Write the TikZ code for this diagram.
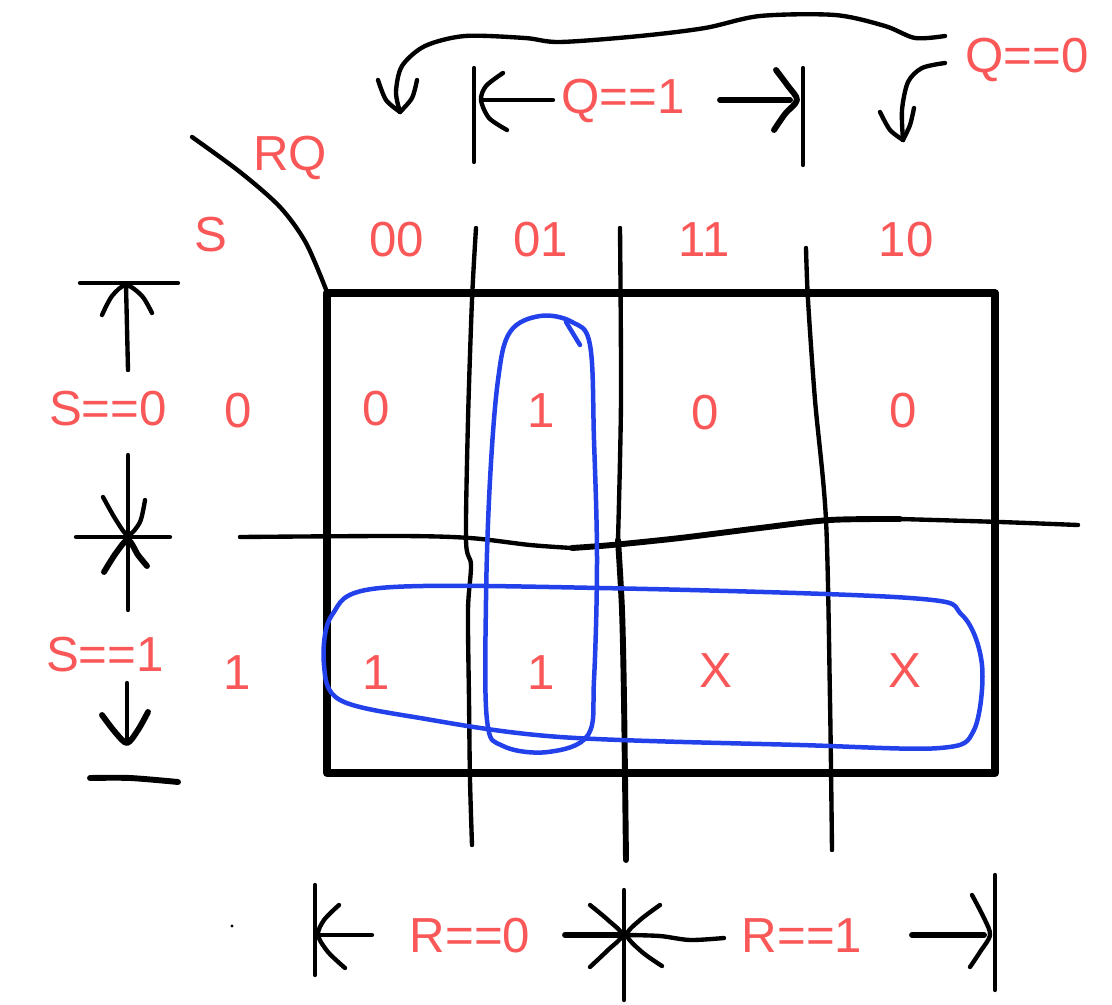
\documentclass[tikz,border=0pt]{standalone}
\usepackage{fontspec}
\setmainfont{Liberation Sans}
\begin{document}
\begin{tikzpicture}[x=0.025cm,y=-0.025cm,line cap=round,line join=round]
\definecolor{kred}{RGB}{250,88,88}
\definecolor{kblue}{RGB}{35,65,235}
\tikzset{
  lbl/.style={text=kred,font=\fontsize{35}{40}\selectfont,inner sep=0pt},
  ink/.style={draw=black,line width=3.1pt},
  inkb/.style={draw=black,line width=4.2pt},
  loop/.style={draw=kblue,line width=3.2pt},
}
\useasboundingbox (0,0) rectangle (1112,1005);
% grid box
\draw[line width=5.8pt] (327,293) rectangle (995,773);
% RQ/S diagonal
\draw[ink] plot[smooth] coordinates {(192,137) (240,172) (280,207) (306,243) (327,292)};
% vertical hand lines
\draw[ink] plot[smooth] coordinates {(476,228) (472,300) (468,420) (466,540) (471,565) (468,610) (469,700) (470,780) (472,845)};
\draw[ink] plot[smooth] coordinates {(620,228) (621,400) (618,540)};
\draw[inkb] plot[smooth] coordinates {(618,540) (622,610) (624,700) (626,860)};
\draw[ink] plot[smooth] coordinates {(806,248) (808,300) (815,400) (826,520) (830,700) (832,850)};
% middle horizontal
\draw[ink] plot[smooth] coordinates {(240,537) (400,536) (470,538) (530,545) (572,548)};
\draw[inkb] plot[smooth] coordinates {(572,548) (612,545) (680,538) (760,528) (830,520) (900,519)};
\draw[ink] plot[smooth] coordinates {(900,519) (1000,522) (1078,525)};
% top long curved arrow to Q==0
\draw[ink] plot[smooth] coordinates {(945,36) (915,38) (885,26) (835,15) (760,16) (705,28) (640,36) (560,42) (525,38) (465,36) (425,46) (402,66) (396,92) (400,112)};
\draw[ink] plot[smooth] coordinates {(378,80) (386,100) (400,112)} ;
\draw[ink] plot[smooth] coordinates {(400,112) (412,98) (417,80)};
% second small arrow
\draw[ink] plot[smooth] coordinates {(945,63) (922,68) (908,82) (902,110) (903,140)};
\draw[ink] plot[smooth] coordinates {(880,112) (890,130) (903,140)};
\draw[ink] plot[smooth] coordinates {(903,140) (910,125) (914,108)};
% Q==1 bracket
\draw[ink] (474,68) -- (474,162);
\draw[ink] (803,68) -- (803,165);
\draw[ink] (481,100) -- (553,100);
\draw[ink] plot[smooth] coordinates {(503,73) (486,86) (481,100) (489,118) (507,130)};
\draw[inkb] (720,100) -- (790,100);
\draw[inkb] plot[smooth] coordinates {(776,70) (788,86) (797,100) (785,114) (774,130)};
% left S arrows
\draw[ink] (80,283) -- (178,283);
\draw[ink] (126,285) -- (128,370);
\draw[ink] plot[smooth] coordinates {(102,315) (112,296) (126,285) (142,296) (152,313)};
\draw[ink] (76,537) -- (170,537);
\draw[ink] (128,455) -- (128,610);
\draw[ink] plot[smooth] coordinates {(103,497) (116,520) (128,535) (140,522) (145,500)};
\draw[inkb] plot[smooth] coordinates {(104,572) (116,553) (128,540) (138,555) (147,566)};
\draw[ink] (127,683) -- (127,740);
\draw[inkb] plot[smooth] coordinates {(102,715) (115,732) (127,743) (138,730) (148,712)};
\draw[inkb] plot[smooth] coordinates {(90,778) (130,778) (178,782)};
% bottom R arrows
\draw[ink] (315,885) -- (315,975);
\draw[ink] (320,935) -- (372,935);
\draw[ink] plot[smooth] coordinates {(339,905) (324,920) (318,935) (328,952) (345,968)};
\draw[inkb] (565,935) -- (618,935);
\draw[ink] plot[smooth] coordinates {(590,905) (608,920) (622,935) (608,950) (590,967)};
\draw[ink] (624,890) -- (624,1000);
\draw[ink] plot[smooth] coordinates {(660,905) (640,920) (627,935) (642,952) (662,966)};
\draw[ink] plot[smooth] coordinates {(627,935) (660,936) (690,940) (724,938)};
\draw[inkb] (912,935) -- (984,935);
\draw[ink] plot[smooth] coordinates {(972,895) (984,918) (990,935) (980,952) (970,967)};
\draw[ink] (995,875) -- (995,990);
\fill (232,926) circle (1.6);
% blue loops
\draw[loop] plot[smooth cycle,tension=0.6] coordinates {(540,316) (572,322) (590,345) (594,440) (597,560) (594,680) (588,735) (548,752) (503,746) (487,720) (486,600) (490,480) (498,380) (510,332)};
\draw[loop] (566,322) -- (580,345);
\draw[loop] plot[smooth cycle,tension=0.55] coordinates {(380,588) (600,588) (910,598) (962,615) (982,665) (974,730) (940,748) (800,745) (560,737) (420,718) (340,700) (324,665) (332,615)};
% labels
\node[lbl] (rq) at (290,158) {RQ};
\node[lbl] (s) at (211,235) {S};
\node[lbl] (c00) at (397,240) {00};
\node[lbl] (c01) at (541,240) {01};
\node[lbl] (c11) at (704,240) {11};
\node[lbl] (c10) at (906,240) {10};
\node[lbl] (q1) at (623,101) {Q==1};
\node[lbl] (q0) at (1027,60) {Q==0};
\node[lbl] (s0) at (108,409) {S==0};
\node[lbl] (s1) at (105,655) {S==1};
\node[lbl] (r0) at (238,411) {0};
\node[lbl] (r1) at (237,673) {1};
\node[lbl] (m00) at (376,409) {0};
\node[lbl] (m01) at (541,411) {1};
\node[lbl] (m02) at (705,413) {0};
\node[lbl] (m03) at (903,411) {0};
\node[lbl] (m10) at (376,673) {1};
\node[lbl] (m11) at (541,673) {1};
\node[lbl] (m12) at (716,671) {X};
\node[lbl] (m13) at (905,671) {X};
\node[lbl] (rr0) at (470,936) {R==0};
\node[lbl] (rr1) at (802,936) {R==1};
\end{tikzpicture}
\end{document}
